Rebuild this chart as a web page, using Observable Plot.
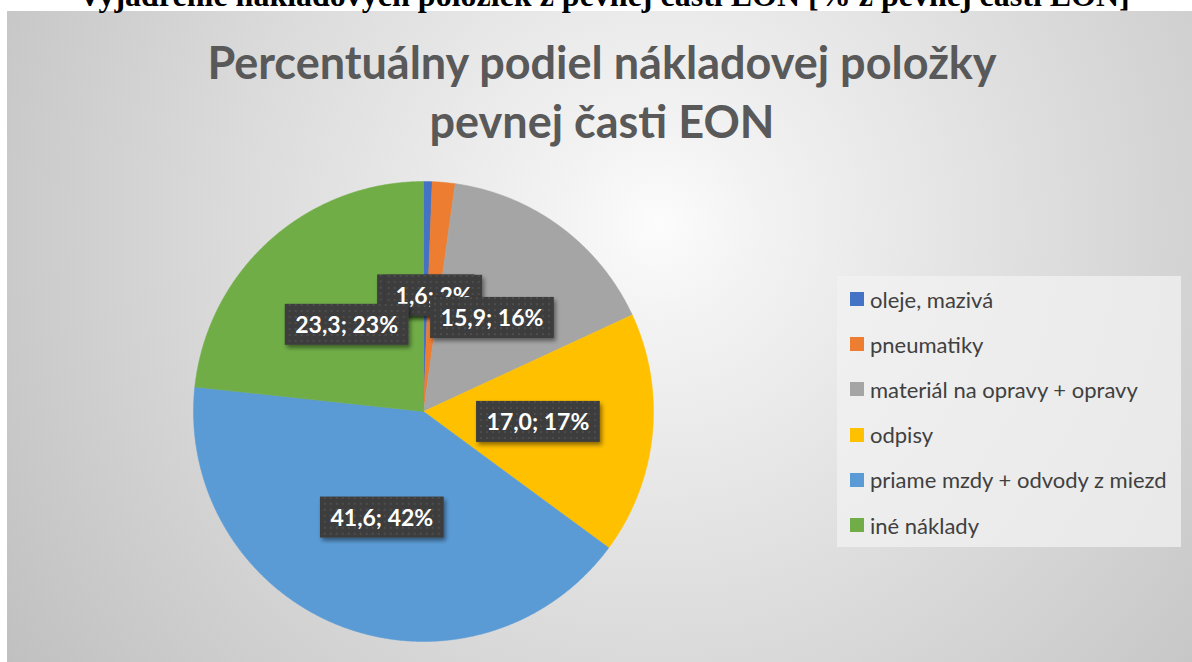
<!DOCTYPE html>
<html><head><meta charset="utf-8">
<script src="https://cdn.jsdelivr.net/npm/d3@7"></script>
<script src="https://cdn.jsdelivr.net/npm/@observablehq/plot@0.6"></script>
<style>
body{margin:0;background:#fff;}
#wrap{position:relative;width:1192px;height:662px;overflow:hidden;background:#fff;}
#bg{position:absolute;left:7px;top:11px;width:1185px;height:651px;background:radial-gradient(circle 800px at 651px 213px,#fcfcfc 0%,#f3f3f3 12%,#bfbfbf 100%);}
#titles{position:absolute;left:0;top:0;}
#chart{position:absolute;left:0;top:0;}
#legend{position:absolute;left:837px;top:276px;width:344px;height:271px;background:rgba(242,242,242,0.75);}
.item{position:absolute;left:13px;height:24px;display:flex;align-items:center;font-family:Lato,sans-serif;font-size:22px;color:#404040;white-space:nowrap;}
.sw{width:14px;height:14px;margin-right:6px;flex:none;}
</style></head>
<body>
<div id="wrap">
  <div id="bg"></div>
  <svg id="titles" width="1192" height="662">
    <text x="604" y="6" text-anchor="middle" font-family="Liberation Serif" font-weight="bold" font-size="32" fill="#000">Vyjadrenie nákladových položiek z pevnej časti EON  [% z pevnej časti EON]</text>
    <text x="602" y="79" text-anchor="middle" font-family="Lato" font-weight="bold" font-size="45" fill="#595959">Percentuálny podiel nákladovej položky</text>
    <text x="602" y="138" text-anchor="middle" font-family="Lato" font-weight="bold" font-size="45" fill="#595959">pevnej časti EON</text>
  </svg>
  <div id="chart"></div>
  <div id="legend"></div>
</div>
<script>
const categories = ["oleje, mazivá","pneumatiky","materiál na opravy + opravy","odpisy","priame mzdy + odvody z miezd","iné náklady"];
const values = [0.6, 1.6, 15.9, 17.0, 41.6, 23.3];
const colors = ["#4472C4","#ED7D31","#A5A5A5","#FFC000","#5B9BD5","#70AD47"];

const rows = categories.map((name, i) => ({name, value: values[i]}));
const total = d3.sum(values);
const arcs = d3.pie().sort(null).value(d => d.value)(rows);

// slice outlines in unit-circle data space (y up)
const slicePts = [];
for (const a of arcs) {
  const n = Math.max(2, Math.ceil((a.endAngle - a.startAngle) / 0.005));
  slicePts.push({name: a.data.name, x: 0, y: 0});
  for (let k = 0; k <= n; k++) {
    const t = a.startAngle + (a.endAngle - a.startAngle) * k / n;
    slicePts.push({name: a.data.name, x: Math.sin(t), y: Math.cos(t)});
  }
  slicePts.push({name: a.data.name, x: 0, y: 0});
}
const fmt = v => v.toFixed(1).replace(".", ",");
const labels = arcs.map(a => {
  const m = (a.startAngle + a.endAngle) / 2;
  return {name: a.data.name, x: 0.5 * Math.sin(m), y: 0.5 * Math.cos(m),
          label: `${fmt(a.data.value)}; ${Math.round(a.data.value / total * 100)}%`};
});

const plot = Plot.plot({
  width: 1192, height: 662,
  marginLeft: 193, marginRight: 539, marginTop: 181, marginBottom: 21,
  x: {domain: [-1, 1], axis: null},
  y: {domain: [-1, 1], axis: null},
  color: {domain: categories, range: colors},
  style: {background: "transparent", overflow: "visible"},
  marks: [
    Plot.line(slicePts, {x: "x", y: "y", z: "name", fill: "name", stroke: "name", strokeWidth: 0.5, curve: "linear"}),
    Plot.text(labels, {x: "x", y: "y", text: "label", fill: "white", fontSize: 23, fontWeight: "bold", fontFamily: "Lato", className: "lbl"})
  ]
});
document.getElementById("chart").appendChild(plot);

// label boxes
const ns = "http://www.w3.org/2000/svg";
const defs = document.createElementNS(ns, "defs");
defs.innerHTML = `<pattern id="dots" width="6" height="6" patternUnits="userSpaceOnUse">
  <rect width="6" height="6" fill="#3d3d3d"/><circle cx="3" cy="3" r="0.9" fill="#545454"/></pattern>
  <filter id="sh" x="-20%" y="-30%" width="140%" height="170%"><feDropShadow dx="2" dy="3" stdDeviation="2" flood-color="#000" flood-opacity="0.45"/></filter>`;
plot.insertBefore(defs, plot.firstChild);
plot.querySelectorAll(".lbl text").forEach(t => {
  const b = t.getBBox();
  const cy = b.y + b.height / 2;
  const r = document.createElementNS(ns, "rect");
  r.setAttribute("x", b.x - 10.5);
  r.setAttribute("y", cy - 20.5);
  r.setAttribute("width", b.width + 21);
  r.setAttribute("height", 41);
  r.setAttribute("fill", "url(#dots)");
  r.setAttribute("filter", "url(#sh)");
  const tr = t.getAttribute("transform");
  if (tr) r.setAttribute("transform", tr);
  t.parentNode.insertBefore(r, t);
});

// legend
const leg = document.getElementById("legend");
categories.forEach((c, i) => {
  const d = document.createElement("div");
  d.className = "item";
  d.style.top = (11 + i * 45.2) + "px";
  d.innerHTML = `<span class="sw" style="background:${colors[i]}"></span><span>${c}</span>`;
  leg.appendChild(d);
});
</script>
</body></html>
